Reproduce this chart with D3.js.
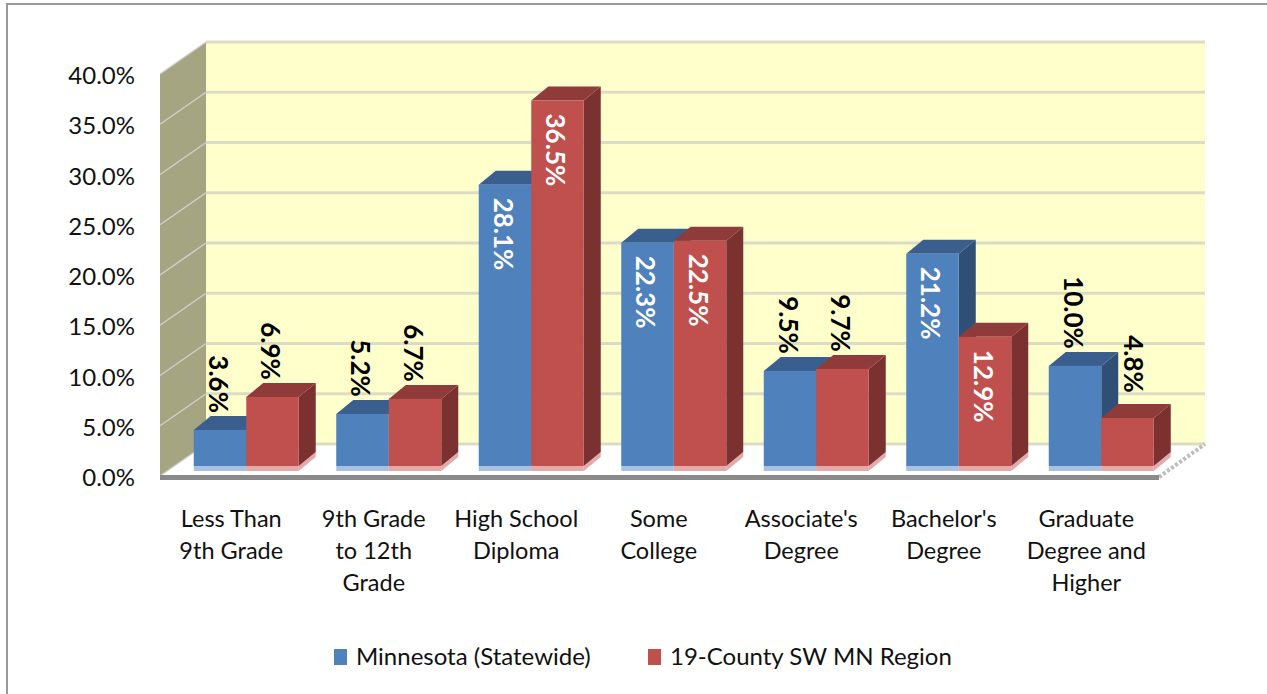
<!DOCTYPE html>
<html><head><meta charset="utf-8">
<script src="https://cdn.jsdelivr.net/npm/d3@7/dist/d3.min.js"></script>
<style>html,body{margin:0;padding:0;background:#fff}svg{display:block}text{font-family:Lato,"Open Sans",sans-serif}</style>
</head><body><svg id="c" width="1267" height="694"></svg>
<script>
const categories=[["Less Than","9th Grade"],["9th Grade","to 12th","Grade"],["High School","Diploma"],["Some","College"],["Associate's","Degree"],["Bachelor's","Degree"],["Graduate","Degree and","Higher"]];
const statewide=[3.6,5.2,28.1,22.3,9.5,21.2,10.0];
const region=[6.9,6.7,36.5,22.5,9.7,12.9,4.8];
const seriesNames=["Minnesota (Statewide)","19-County SW MN Region"];
const ticks=[0,5,10,15,20,25,30,35,40];

const svg=d3.select("#c");
const wall={dx:46,dy:-32};
const y=d3.scaleLinear().domain([0,40]).range([476,74]);
const yBar=d3.scaleLinear().domain([0,40]).range([466,65.5]);
const x0=d3.scaleBand().domain(d3.range(7)).range([175,1172.5]);
const xLabel=d3.scaleBand().domain(d3.range(7)).range([160,1157.5]);
const barW=52.5, depth={dx:17,dy:-14};
const colors=[{f:"#4f81bd",t:"#3a5f8e",s:"#2f4f77",r:"#a9c0de"},{f:"#c0504d",t:"#8f3b39",s:"#7b3130",r:"#e3aaa9"}];
const pts=a=>a.map(p=>p.join(",")).join(" ");

svg.append("rect").attr("x",7).attr("y",4).attr("width",1300).attr("height",800).attr("fill","#fff").attr("stroke","#999").attr("stroke-width",2);

const X0=160,X1=1159,B=y(0),T=y(40);
svg.append("rect").attr("x",X0+wall.dx).attr("y",T+wall.dy).attr("width",X1-X0).attr("height",B-T).attr("fill","#ffffcc");
svg.append("polygon").attr("points",pts([[X0,T],[X0+wall.dx,T+wall.dy],[X0+wall.dx,B+wall.dy],[X0,B]])).attr("fill","#a5a582");
svg.append("polygon").attr("points",pts([[X0,B],[X0+wall.dx,B+wall.dy],[X1+wall.dx,B+wall.dy],[X1,B]])).attr("fill","#fff");
ticks.forEach(t=>{
  const yy=y(t);
  svg.append("line").attr("x1",X0+wall.dx).attr("x2",X1+wall.dx).attr("y1",yy+wall.dy).attr("y2",yy+wall.dy).attr("stroke","#dcdcc6").attr("stroke-width",3);
  svg.append("line").attr("x1",X0).attr("x2",X0+wall.dx).attr("y1",yy).attr("y2",yy+wall.dy).attr("stroke","#cfcfcf").attr("stroke-width",1.5);
});
svg.append("line").attr("x1",X1).attr("y1",B+1).attr("x2",X1+wall.dx).attr("y2",B+wall.dy).attr("stroke","#bdbdbd").attr("stroke-width",4).attr("stroke-dasharray","3 2");

const g=svg.append("g");
d3.range(7).forEach(i=>{
  [statewide,region].forEach((s,k)=>{
    const xl=x0(i)+x0.bandwidth()/2-barW+k*barW, xr=xl+barW, v=s[i], top=yBar(v), bot=yBar(0), c=colors[k];
    g.append("rect").attr("x",xl).attr("y",bot).attr("width",barW).attr("height",5).attr("fill",c.r);
    g.append("polygon").attr("points",pts([[xr,bot+5],[xr+depth.dx,bot+5+depth.dy],[xr+depth.dx,bot+depth.dy],[xr,bot]])).attr("fill",c.r);
    g.append("polygon").attr("points",pts([[xr,top],[xr+depth.dx,top+depth.dy],[xr+depth.dx,bot+depth.dy],[xr,bot]])).attr("fill",c.s);
    g.append("polygon").attr("points",pts([[xl,top],[xl+depth.dx,top+depth.dy],[xr+depth.dx,top+depth.dy],[xr,top]])).attr("fill",c.t);
    g.append("rect").attr("x",xl).attr("y",top).attr("width",barW).attr("height",bot-top).attr("fill",c.f);
  });
});

svg.append("rect").attr("x",X0).attr("y",B-1).attr("width",X1-X0).attr("height",5).attr("fill","#8a8a8a");

const axis=d3.axisLeft(y).tickValues(ticks).tickSize(0).tickPadding(25).tickFormat(d=>d.toFixed(1)+"%");
const ax=svg.append("g").attr("transform",`translate(${X0},2)`).call(axis);
ax.select(".domain").remove();
ax.selectAll("text").attr("font-size",24).attr("fill","#111").style("font-family","Lato");

d3.range(7).forEach(i=>{
  [statewide,region].forEach((s,k)=>{
    const xl=x0(i)+x0.bandwidth()/2-barW+k*barW, v=s[i], top=yBar(v);
    const inside=v>12;
    const shifted=i===6&&k===1;   // this label sits clear of the taller neighbour's side
    const cx=xl+barW/2-2+(shifted?8:0);
    const yy=inside?top+13:top-17-(shifted?8:0);
    svg.append("text").attr("transform",`translate(${cx},${yy}) rotate(90)`)
      .attr("text-anchor",inside?"start":"end").attr("dy","0.35em")
      .attr("font-size",26).attr("font-weight",700).attr("fill",inside?"#fff":"#000").text(v.toFixed(1)+"%");
  });
});

categories.forEach((lines,i)=>{
  const t=svg.append("text").attr("text-anchor","middle").attr("font-size",23.5).attr("fill","#111");
  lines.forEach((l,j)=>t.append("tspan").attr("x",xLabel(i)+xLabel.bandwidth()/2).attr("y",527+j*32).text(l));
});

const lx=[334,648];
seriesNames.forEach((n,k)=>{
  svg.append("rect").attr("x",lx[k]).attr("y",649).attr("width",13).attr("height",16).attr("fill",colors[k].f);
  svg.append("text").attr("x",lx[k]+22).attr("y",665).attr("font-size",24).attr("fill","#111").text(n);
});
</script></body></html>
